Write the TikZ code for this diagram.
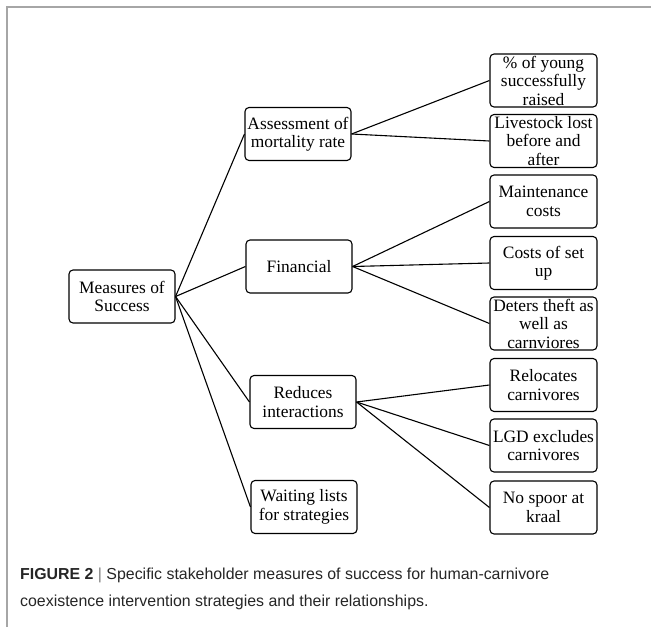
\documentclass[tikz,border=0pt]{standalone}
\usepackage{fontspec}
\setmainfont{Liberation Serif}
\newfontfamily\capfont{Liberation Sans}
\begin{document}
\begin{tikzpicture}[x=1pt,y=-1pt,
  box/.style={draw,line width=1.1pt,rounded corners=4pt,minimum width=106pt,minimum height=53pt,align=center,inner sep=0pt,font=\fontsize{17.4}{18.5}\selectfont},
  rbox/.style={box,minimum width=107pt},
  link/.style={line width=1.1pt},
  captext/.style={anchor=base west,inner sep=0pt,text=black!85,font=\capfont\fontsize{15.9}{19}\selectfont}]
\useasboundingbox (0,0) rectangle (651,627);
\fill[white] (0,0) rectangle (651,627);
\draw[gray!70,line width=1.2pt] (7,627) -- (7,7) -- (651,7);
\node[box] (root) at (122,296.5) {Measures of\\Success};
\node[box] (assess) at (298,134) {Assessment of\\mortality rate};
\node[box] (fin) at (299,266.5) {Financial};
\node[box] (red) at (303,402) {Reduces\\interactions};
\node[box] (wait) at (304,507) {Waiting lists\\for strategies};
\node[rbox] (young) at (543.5,80.5) {\% of young\\successfully\\raised};
\node[rbox] (live) at (543.5,141) {Livestock lost\\before and\\after};
\node[rbox] (maint) at (543.5,201.5) {Maintenance\\costs};
\node[rbox] (setup) at (543.5,263) {Costs of set\\up};
\node[rbox] (deter) at (543.5,323.5) {Deters theft as\\well as\\carnviores};
\node[rbox] (reloc) at (543.5,385) {Relocates\\carnivores};
\node[rbox] (lgd) at (543.5,445.5) {LGD excludes\\carnivores};
\node[rbox] (spoor) at (543.5,507.5) {No spoor at\\kraal};
\foreach \m in {assess,fin,red,wait} \draw[link] (root.east) -- (\m.west);
\foreach \r in {young,live} \draw[link] (assess.east) -- (\r.west);
\foreach \r in {maint,setup,deter} \draw[link] (fin.east) -- (\r.west);
\foreach \r in {reloc,lgd,spoor} \draw[link] (red.east) -- (\r.west);
\node[captext] (cap1) at (20,579) {{\bfseries FIGURE 2} {\color{gray}|} Specific stakeholder measures of success for human-carnivore};
\node[captext] (cap2) at (20,606) {coexistence intervention strategies and their relationships.};
\end{tikzpicture}
\end{document}
